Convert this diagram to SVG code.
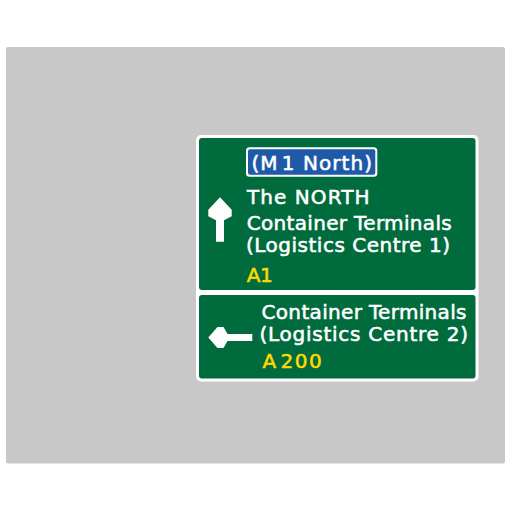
<svg xmlns="http://www.w3.org/2000/svg" width="512" height="512" viewBox="0 0 512 512">
<style>
.t{font-family:"DejaVu Sans","Liberation Sans",sans-serif;font-size:20px;fill:#ffffff;stroke:#ffffff;stroke-width:0.55px}
.y{fill:#ffd800;stroke:#ffd800}
.g{fill:#006b3d}
.w{fill:#ffffff}
</style>
<rect width="512" height="512" fill="#ffffff"/>
<rect id="background" x="6" y="47" width="499" height="416.5" rx="2" fill="#c8c8c8"/>
<g id="sign">
<rect x="196" y="135" width="282.5" height="246.5" rx="5" class="w"/>
<g id="panel-top">
<rect x="199" y="138" width="276.5" height="152" rx="3" class="g"/>
<g id="route-box">
<rect x="246" y="147.3" width="131.3" height="29.4" rx="3.5" class="w"/>
<rect x="248" y="149.3" width="127.3" height="25.4" rx="2" fill="#1f5aa8"/>
<text class="t" x="251.5" y="170.3" textLength="120.5" lengthAdjust="spacing">(M<tspan dx="3">1</tspan> North)</text>
</g>
<path id="arrow-up" class="w" d="M220,197.3 L208.3,209.8 L208.3,216.2 L216,220.3 L216,241.7 L224,241.7 L224,220.3 L231.7,216.2 L231.7,209.8 Z"/>
<text class="t" x="247" y="204" textLength="122.5" lengthAdjust="spacing">The NORTH</text>
<text class="t" x="246.7" y="230" textLength="205" lengthAdjust="spacing">Container Terminals</text>
<text class="t" x="246" y="251.7" textLength="204" lengthAdjust="spacing">(Logistics Centre 1)</text>
<text class="t y" x="246.7" y="281.7" textLength="26" lengthAdjust="spacing">A<tspan dx="6">1</tspan></text>
</g>
<g id="panel-bottom">
<rect x="199" y="295" width="276.5" height="83.5" rx="3" class="g"/>
<path id="arrow-left" class="w" d="M208.3,337.5 L217.5,327 L223.5,327 L227.5,334 L252.3,334 L252.3,341 L227.5,341 L223.5,348 L217.5,348 Z"/>
<text class="t" x="261.5" y="318.7" textLength="205" lengthAdjust="spacing">Container Terminals</text>
<text class="t" x="259.5" y="340.7" textLength="208.5" lengthAdjust="spacing">(Logistics Centre 2)</text>
<text class="t y" x="262.5" y="368" textLength="59.2" lengthAdjust="spacing">A<tspan dx="3">200</tspan></text>
</g>
</g>
</svg>
